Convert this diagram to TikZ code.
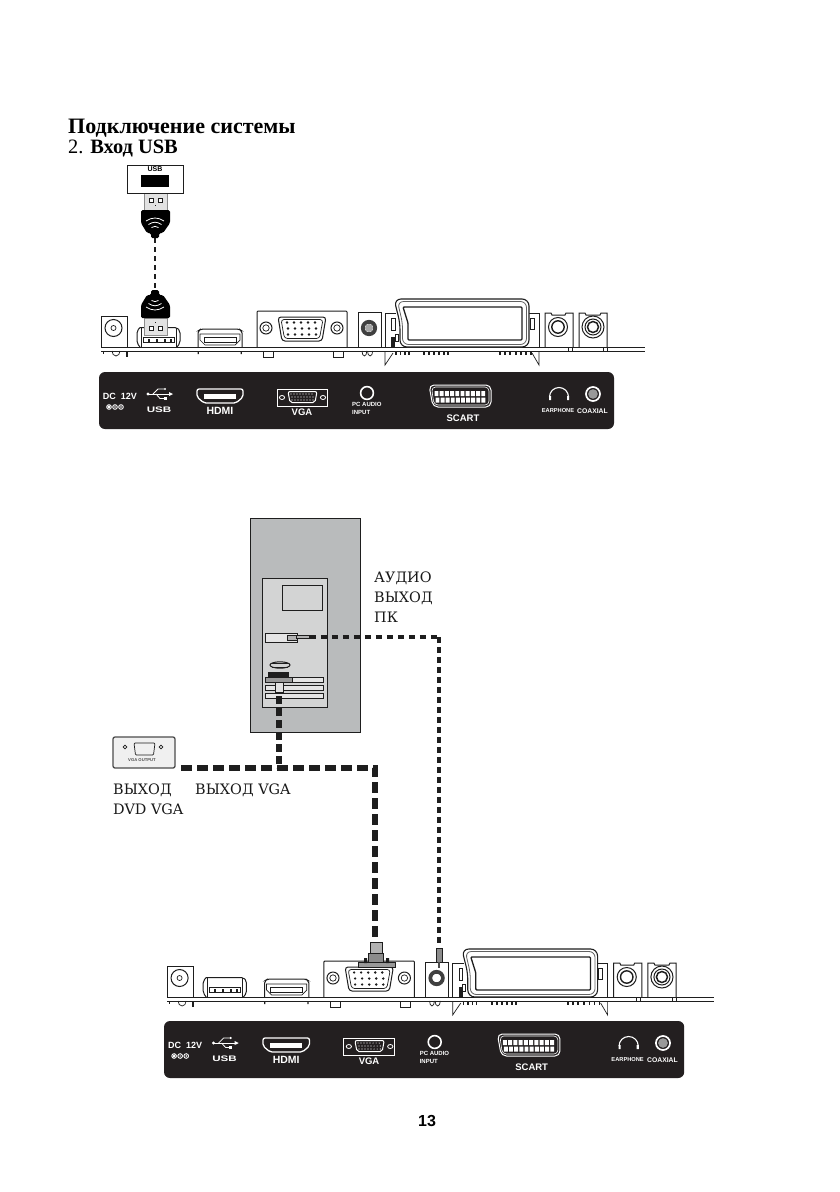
\documentclass[tikz,border=0pt]{standalone}
\usepackage{fontspec}
\setmainfont{Liberation Serif}
\setsansfont{Liberation Sans}
\newfontfamily\labelfont{DejaVu Serif}
\newfontfamily\widefont[FakeStretch=1.45]{Liberation Sans}
\definecolor{ink}{HTML}{1E1E1E}
\definecolor{panel}{HTML}{231F20}
\definecolor{pcgray}{HTML}{B9BBBC}
\definecolor{towergray}{HTML}{D3D4D4}
\definecolor{metal}{HTML}{E2E2E2}
\tikzset{
  bl/.style={draw=ink,line width=1pt},
  thinl/.style={draw=ink,line width=.7pt},
  wl/.style={draw=white,line width=1pt},
  striptext/.style={text=white,font=\sffamily\bfseries\fontsize{8}{8}\selectfont,inner sep=0pt,align=left},
  stripbig/.style={text=white,font=\sffamily\bfseries\fontsize{10.5}{11}\selectfont,inner sep=0pt},
  lab/.style={anchor=base west,inner sep=0pt,text=black!90,font=\labelfont\fontsize{14.4}{15}\selectfont},
  headtext/.style={anchor=base west,inner sep=0pt,font=\bfseries\fontsize{22}{22}\selectfont},
  vgacable/.style={draw=ink,line width=6.5pt,dash pattern=on 11pt off 5pt},
  vgacableb/.style={draw=ink,line width=6.5pt,dash pattern=on 8pt off 4pt},
  audiocableh/.style={draw=ink,line width=3.6pt,dash pattern=on 6pt off 5pt},
  audiocablev/.style={draw=ink,line width=3.8pt,dash pattern=on 6pt off 4pt},
  usbcable/.style={draw=ink,line width=2.6pt,dash pattern=on 5pt off 4pt},
}
\newcommand{\boardpic}[1]{%
  % base lines
  \draw[bl] (101,347) -- (645,347);
  \draw[bl] (101,351) -- (645,351);
  % DC jack
  \draw[bl] (101,347) |- (127,316) -- (127,347);
  \draw[bl] (113.5,328) circle (8.5);
  \draw[thinl] (113.5,328) circle (2.5);
  \draw[thinl] (103,351) -- (103,354);
  \draw[thinl] (112,351) arc[start angle=180,end angle=0,x radius=4,y radius=5];
  \draw[line width=1.4pt,draw=ink] (127,351) -- (127,357);
  % USB port
  \draw[bl,rounded corners=2pt] (140,327.5) -- (177,327.5) -- (180,331) -- (180,343) -- (177,347);
  \draw[bl,rounded corners=2pt] (140,327.5) -- (137,331) -- (137,343) -- (140,347);
  \draw[thinl] (141,327.5) -- (141,347) (176,327.5) -- (176,347);
  \draw[bl] (143,337) rectangle (174,342);
  \foreach \xx in {148,156,164,170}{\fill[ink] (\xx,339) rectangle +(2,3);}
  % HDMI
  \draw[bl,rounded corners=2pt] (198,347) -- (198,331) -- (201,329) -- (239,329) -- (242,331) -- (242,347);
  \draw[thinl] (200,334) -- (240,334) -- (240,340) -- (235,345) -- (205,345) -- (200,340) -- cycle;
  \draw[bl] (204,337.5) rectangle (236,342);
  \fill[ink] (197.5,351) rectangle +(1.3,3) (240.5,351) rectangle +(1.3,3);
  % VGA
  \draw[bl,rounded corners=1pt] (257,347) -- (257,311) -- (347,311) -- (347,347);
  \draw[bl] (266,328) circle (6) (337,328) circle (6);
  \draw[thinl] (266,328) circle (3.2) (337,328) circle (3.2);
  \draw[bl,rounded corners=3pt] (278,317) -- (326,317) -- (322,341) -- (282,341) -- cycle;
  \draw[thinl,rounded corners=3pt] (281,319.5) -- (323,319.5) -- (319.5,338.5) -- (284.5,338.5) -- cycle;
  \foreach \xx in {287,294,301,308,315}{\fill[ink] (\xx,322.5) circle (1.3) (\xx+1,328.5) circle (1.3) (\xx+1,334.5) circle (1.3);}
  \draw[thinl] (263,351) -- (263,357) -- (273,357) -- (273,351) (333,351) -- (333,357) -- (343,357) -- (343,351);
  % audio jack
  \draw[bl] (358,347) -- (358,312) -- (381,312) -- (381,347);
  \draw[draw=ink!85,line width=3.8pt] (369,328) circle (6.2);
  \fill[#1] (369,328) circle (4);
  \draw[thinl] (362,351) arc[start angle=180,end angle=0,x radius=2.4,y radius=5]
               (367.5,351) arc[start angle=180,end angle=0,x radius=2.6,y radius=5];
  % SCART
  \draw[bl] (385,347) -- (385,313) -- (396,313);
  \draw[bl] (528,313) -- (539,313) -- (539,347);
  \draw[thinl] (391.5,318) rectangle (395,330);
  \draw[thinl] (530,318) rectangle (534,329);
  \fill[ink] (391,337) rectangle (395,347);
  \draw[thinl] (395,334) rectangle (398,341);
  \draw[line width=1.1pt,draw=ink,rounded corners=7pt,fill=white] (394,299) -- (529,299) -- (529,347) -- (400,347) -- (400,323) -- cycle;
  \draw[line width=.8pt,draw=ink!70,rounded corners=6pt] (397.5,301.5) -- (526.5,301.5) -- (526.5,344.5) -- (402.5,344.5) -- (402.5,323) -- cycle;
  \draw[line width=1.3pt,draw=ink,rounded corners=1pt] (403,307) -- (522,307) -- (522,340) -- (408,340) -- (408,323) -- cycle;
  \draw[thinl] (385,351) -- (385,365) -- (393,353) (539,351) -- (539,365) -- (532,353);
  \foreach \xx in {395,399.5,404,408,423,428,433,438,443,447,499,504,509,515,520,525,530}{\fill[ink] (\xx,352) rectangle +(1.6,2.6);}
  % phone jacks
  \draw[bl] (545,347) -- (545,313) -- (551,313) -- (552,315) -- (565,315) -- (566,313) -- (573,313) -- (573,347);
  \draw[bl] (558,327) circle (9.5);
  \draw[line width=1.4pt,draw=ink] (558,327) circle (6.2);
  \draw[thinl] (568,347) -- (568,351) (572,347) -- (572,351);
  \draw[bl] (579,347) -- (579,313) -- (585,313) -- (586,315) -- (600,315) -- (601,313) -- (607,313) -- (607,347);
  \draw[bl] (593,327) circle (11);
  \draw[bl] (593,327) circle (8);
  \draw[line width=1.5pt,draw=ink] (593,327) circle (5.5);
  \draw[thinl] (603,347) -- (603,351) (607,347) -- (607,351);
}
\newcommand{\strippic}{%
  \fill[panel,rounded corners=6pt] (99,372) rectangle (614,429);
  \node[striptext,font=\sffamily\bfseries\fontsize{9}{9}\selectfont] (dc) at (120,396) {DC\ \ 12V};
  \foreach \xx/\nn in {109/a,115/b,121/c}{\draw[wl,line width=.9pt] (\xx,407) circle (2.3);}
  \fill[white] (109,407) circle (1.6) (115,407) circle (.8) (121,407) circle (.8);
  % usb symbol
  \fill[white] (148,394) circle (1.7);
  \draw[wl] (148,394) -- (170,394);
  \fill[white] (173,394) -- (169,392) -- (169,396) -- cycle;
  \draw[wl,line width=.8pt] (153,394) -- (158,389) -- (164,389) (156,394) -- (160,398.5) -- (164,398.5);
  \fill[white] (165,389) circle (1.2);
  \fill[white] (163.5,397) rectangle +(3,3);
  \node[text=white,inner sep=0pt,font=\widefont\bfseries\fontsize{8}{8}\selectfont] (usb) at (159,410) {USB};
  % hdmi
  \draw[wl,line width=1.3pt,rounded corners=2pt] (197,389) -- (243,389) -- (243,397) -- (236,403) -- (204,403) -- (197,397) -- cycle;
  \fill[white] (204,394) rectangle (236,399);
  \node[stripbig] (hdmi) at (220,411) {HDMI};
  % vga
  \draw[wl,line width=.9pt] (277,389) rectangle (327,406);
  \draw[wl,line width=.8pt] (282,397.5) ellipse (2.6 and 2) (323,397.5) ellipse (2.6 and 2);
  \draw[wl,rounded corners=2pt] (288,391.5) -- (317,391.5) -- (315,402.5) -- (290,402.5) -- cycle;
  \foreach \xx in {291,294,297,300,303,306,309,312}{\fill[white] (\xx,394) circle (.6) (\xx+1,397) circle (.6) (\xx+1,400) circle (.6);}
  \node[striptext,font=\sffamily\bfseries\fontsize{9.5}{10}\selectfont] (vga) at (302,412) {VGA};
  % pc audio
  \draw[wl,line width=1.6pt] (367,393) circle (6.4);
  \node[striptext,font=\sffamily\bfseries\fontsize{6}{7.6}\selectfont,anchor=north west] (pca) at (352,402.5) {PC AUDIO\\INPUT};
  % scart
  \draw[wl,rounded corners=5pt] (429,385) -- (491,385) -- (491,407) -- (433,407) -- cycle;
  \draw[wl,line width=.6pt,rounded corners=4pt] (431.5,387) -- (489,387) -- (489,405) -- (434,405) -- cycle;
  \foreach \ii in {0,...,9}{\fill[white] (434.5+5.2*\ii,391) rectangle +(3.9,5.2) (435.5+5.1*\ii,397.5) rectangle +(3.9,5.2);}
  \node[stripbig,font=\sffamily\bfseries\fontsize{9.5}{10}\selectfont] (scart) at (463,418) {SCART};
  % earphone
  \draw[wl,line width=1.1pt] (549.5,397) arc[start angle=180,end angle=360,radius=9.5];
  \fill[white] (549,396) rectangle +(2,4) (567,396) rectangle +(2,4);
  \node[striptext,font=\sffamily\bfseries\fontsize{5.7}{7}\selectfont] (ear) at (558,411) {EARPHONE};
  % coaxial
  \draw[wl,line width=1.7pt] (593,394) circle (7);
  \fill[black!40] (593,394) circle (4.8);
  \node[striptext,font=\sffamily\bfseries\fontsize{6.8}{7}\selectfont] (coax) at (592.5,411) {COAXIAL};
}
\newcommand{\usbplug}{%
  \draw[thinl,draw=black!45,fill=metal] (-11,0) rectangle (12,17);
  \draw[bl,fill=white] (-6,5) rectangle +(4,4);
  \draw[bl,fill=white] (3.5,5) rectangle +(4,4);
  \fill[ink] (-.5,12) rectangle +(1.2,1);
  \fill[black,rounded corners=1.5pt] (-14,17) -- (15,17) -- (15,30) -- (8,40) -- (4,40) -- (4,45) -- (-4,45) -- (-4,40) -- (-8,40) -- (-14,30) -- cycle;
  \draw[draw=white,line width=.8pt] (-9,28) .. controls (-3,24) and (3,24) .. (9,28);
  \draw[draw=white,line width=.8pt] (-6.5,31.5) .. controls (-2,28.5) and (2,28.5) .. (6.5,31.5);
  \draw[draw=white,line width=.8pt] (-3.5,34.5) .. controls (-1,33) and (1,33) .. (3.5,34.5);
}
\begin{document}
\begin{tikzpicture}[x=1pt,y=-1pt]
\useasboundingbox (0,0) rectangle (840,1192);
\fill[white] (0,0) rectangle (840,1192);
% headings
\node[headtext] (title) at (68,133) {Подключение системы};
\node[headtext,font=\fontsize{20.4}{20}\selectfont] (sub) at (68,153) {2. \textbf{Вход USB}};
% upper board
\begin{scope}[name prefix=a-]
  \boardpic{black!35}
  \strippic
\end{scope}
% usb cable
\coordinate (usbtop) at (155,238);
\coordinate (usbbottom) at (155,290);
\draw[usbcable] (usbtop) -- (usbbottom);
\begin{scope}[shift={(155,193)}]\usbplug\end{scope}
\begin{scope}[shift={(155,335)},yscale=-1]\usbplug\end{scope}
\node[draw=ink,line width=1pt,fill=white,minimum width=56pt,minimum height=28pt,inner sep=0pt] (usbbox) at (155,179) {};
\fill[black] (141,175) rectangle (169,187);
\node[inner sep=0pt,font=\sffamily\bfseries\fontsize{7}{7}\selectfont] (usbtxt) at (155,169.5) {USB};
% PC
\node[draw=ink,line width=1pt,fill=pcgray,minimum width=110pt,minimum height=214pt,inner sep=0pt] (pc) at (305,625) {};
\node[draw=ink,line width=1pt,fill=towergray,minimum width=65pt,minimum height=129pt,inner sep=0pt] (tower) at (294.5,642.5) {};
\node[draw=ink,line width=1pt,fill=towergray,minimum width=40pt,minimum height=25pt,inner sep=0pt] (drive) at (302,597.5) {};
\node[draw=ink,line width=1pt,fill=towergray!60,minimum width=32pt,minimum height=9pt,inner sep=0pt] (audioslot) at (281,637.5) {};
\node[draw=ink,line width=.8pt,fill=black!30,minimum width=10pt,minimum height=5pt,inner sep=0pt] (audioplug) at (292,637.5) {};
\node[draw=ink,line width=.8pt,fill=black!30,minimum width=13pt,minimum height=3pt,inner sep=0pt] (audiotip) at (303,637) {};
\draw[bl] (280,665) ellipse (10 and 3.2);
\draw[thinl] (272,667) -- (288,667) (272,663) -- (288,663);
\foreach \yy in {677,685,693}{\draw[bl,fill=towergray!60] (265,\yy) rectangle (323,\yy+5);}
\draw[bl,fill=black!40] (265,677) rectangle (292,682);
\fill[ink] (268,672) rectangle (289,678);
\node[draw=ink,line width=1pt,fill=metal,minimum width=8pt,minimum height=10pt,inner sep=0pt] (pcvga) at (279,687) {};
% VGA output box
\node[draw=black!70,line width=1.3pt,fill=black!6,rounded corners=2pt,minimum width=62pt,minimum height=31pt,inner sep=0pt] (dvd) at (144,752.5) {};
\draw[thinl,rounded corners=1pt] (134,743) -- (155,743) -- (153.5,755) -- (135.5,755) -- cycle;
\draw[thinl] (125,747) circle (1.8) (161,747) circle (1.8);
\node[inner sep=0pt,text=ink!80,font=\sffamily\bfseries\fontsize{4.2}{4}\selectfont] (dvdtxt) at (142,760.5) {VGA OUTPUT};
% labels
\node[lab] (l1) at (374,582) {АУДИО};
\node[lab] (l2) at (374,602) {ВЫХОД};
\node[lab] (l3) at (374,622) {ПК};
\node[lab] (l4) at (113,794) {ВЫХОД};
\node[lab] (l5) at (113,814) {DVD VGA};
\node[lab] (l6) at (195,794) {ВЫХОД VGA};
% lower board
\begin{scope}[shift={(167,650)},xscale=1.006,name prefix=b-]
  \begin{scope}[shift={(-101,0)}]\boardpic{white}\end{scope}
\end{scope}
\begin{scope}[shift={(164,649)},xscale=1.0101,name prefix=c-]
  \begin{scope}[shift={(-99,0)}]\strippic\end{scope}
\end{scope}
% cables
\coordinate (audioend) at (439,946);
\coordinate (audiocorner) at (439,637);
\coordinate (vgacorner) at (375,768);
\coordinate (vgaend) at (375,942);
\coordinate (pcdrop) at (279,768);
\coordinate (dvdout) at (181,768);
\coordinate (pcvgaout) at (279,696);
\draw[audiocableh] (audiotip.east) -- (audiocorner);
\draw[audiocablev] (audiocorner) -- (audioend);
\draw[vgacableb] (pcvgaout) -- (pcdrop);
\draw[vgacable] (dvdout) -- (vgacorner) -- (vgaend);
% lower plugs
\draw[bl,fill=black!30] (370,942) rectangle (382,953);
\draw[bl,fill=black!45] (368,953) rectangle (383,962);
\draw[bl,fill=black!40] (358,962) rectangle (395,967);
\fill[ink] (364,958) rectangle +(3,5) (386,958) rectangle +(3,5);
\node[draw=ink,line width=.8pt,fill=black!45,minimum width=6pt,minimum height=14pt,inner sep=0pt] (audiolplug) at (439,955) {};
\draw[line width=2.2pt,draw=ink!80] (audiolplug.south) -- ++(0,6);
% page number
\node[inner sep=0pt,font=\sffamily\bfseries\fontsize{16}{16}\selectfont] (pg) at (427,1121) {13};
\end{tikzpicture}
\end{document}
